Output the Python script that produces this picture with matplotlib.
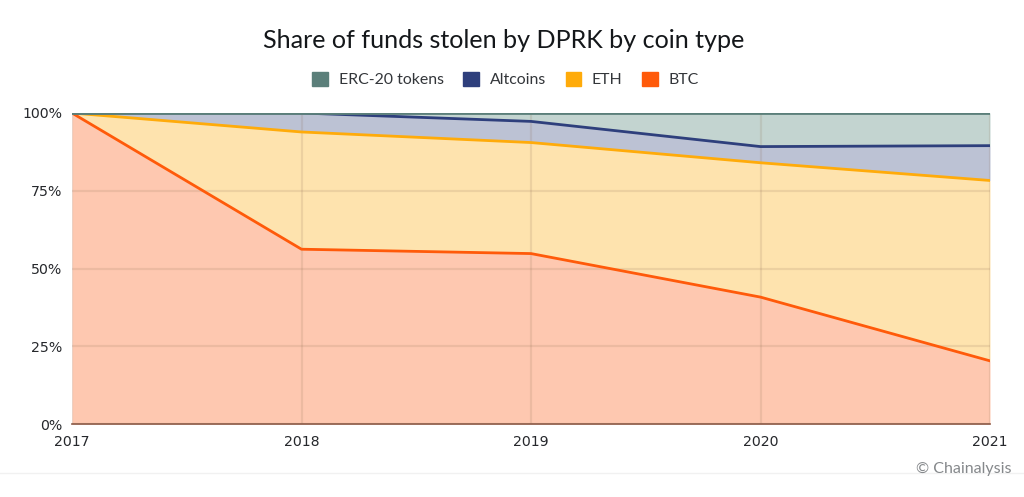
import numpy as np
import matplotlib
matplotlib.use('Agg')
import matplotlib.pyplot as plt
from matplotlib.patches import Patch

years = [2017, 2018, 2019, 2020, 2021]
names = ['ERC-20 tokens', 'Altcoins', 'ETH', 'BTC']
# share of each coin in percent
btc = [100, 56.2, 54.8, 40.8, 20.3]
eth = [0, 37.7, 35.7, 43.2, 58.0]
altcoins = [0, 6.1, 6.8, 5.2, 11.2]
erc20 = [0, 0, 2.7, 10.8, 10.5]
y_ticks = [0, 25, 50, 75, 100]

plt.rcParams['font.family'] = ['Lato', 'DejaVu Sans']

fig = plt.figure(figsize=(10.24, 4.97), dpi=100)
ax = fig.add_axes([72 / 1024, 1 - 424 / 497, 918 / 1024, 311 / 497])

colors = ['#5b7f7a', '#2e3f7c', '#ffab0a', '#ff5a0a']
fills = ['#c3d4d0', '#bcc2d4', '#fee3ae', '#fec8b0']

# stack from the bottom up, BTC first
stack = [btc, eth, altcoins, erc20]
stack_colors = colors[::-1]
stack_fills = fills[::-1]
bottom = np.zeros(len(years))
for vals, c, f in zip(stack, stack_colors, stack_fills):
    top = bottom + np.array(vals)
    ax.fill_between(years, bottom, top, color=f, lw=0, zorder=1)
    ax.plot(years, top, color=c, lw=2, zorder=3, solid_joinstyle='round', clip_on=True)
    bottom = top

ax.set_xlim(2017, 2021)
ax.set_ylim(0, 100)
ax.set_xticks(years)
ax.set_yticks(y_ticks)
ax.set_yticklabels([str(v) + '%' for v in y_ticks])
ax.tick_params(length=0, labelcolor='#26282c')
ax.tick_params(axis='x', pad=8)
ax.tick_params(axis='y', pad=7)
for lbl in ax.get_xticklabels() + ax.get_yticklabels():
    lbl.set_fontfamily(['DejaVu Sans'])
    lbl.set_fontsize(10.2)
ax.grid(True, color='#8a6a50', alpha=0.15, lw=1.6, zorder=2)
ax.set_axisbelow(False)

for s in ['top', 'right', 'left']:
    ax.spines[s].set_visible(False)
ax.spines['bottom'].set_color('#8a5a48')
ax.spines['bottom'].set_linewidth(1.2)

fig.text(503.5 / 1024, 1 - 41 / 497, 'Share of funds stolen by DPRK by coin type',
         ha='center', va='center', fontsize=18.1, color='#14171a')

handles = [Patch(facecolor=c, edgecolor=c) for c in colors]
fig.legend(handles, names, loc='center', bbox_to_anchor=(505.5 / 1024, 1 - 79.5 / 497),
           ncol=4, frameon=False, fontsize=11.4, labelcolor='#33363a',
           handlelength=1.0, handleheight=1.05, handletextpad=0.65, columnspacing=1.25)

fig.add_artist(plt.Line2D([0, 1], [1 - 473 / 497] * 2, color='#f1f1f1', lw=1))
fig.text(1011 / 1024, 1 - 469 / 497, '© Chainalysis', ha='right', va='center',
         fontsize=11.5, color='#85888b')

fig.savefig('out.png', dpi=100)
